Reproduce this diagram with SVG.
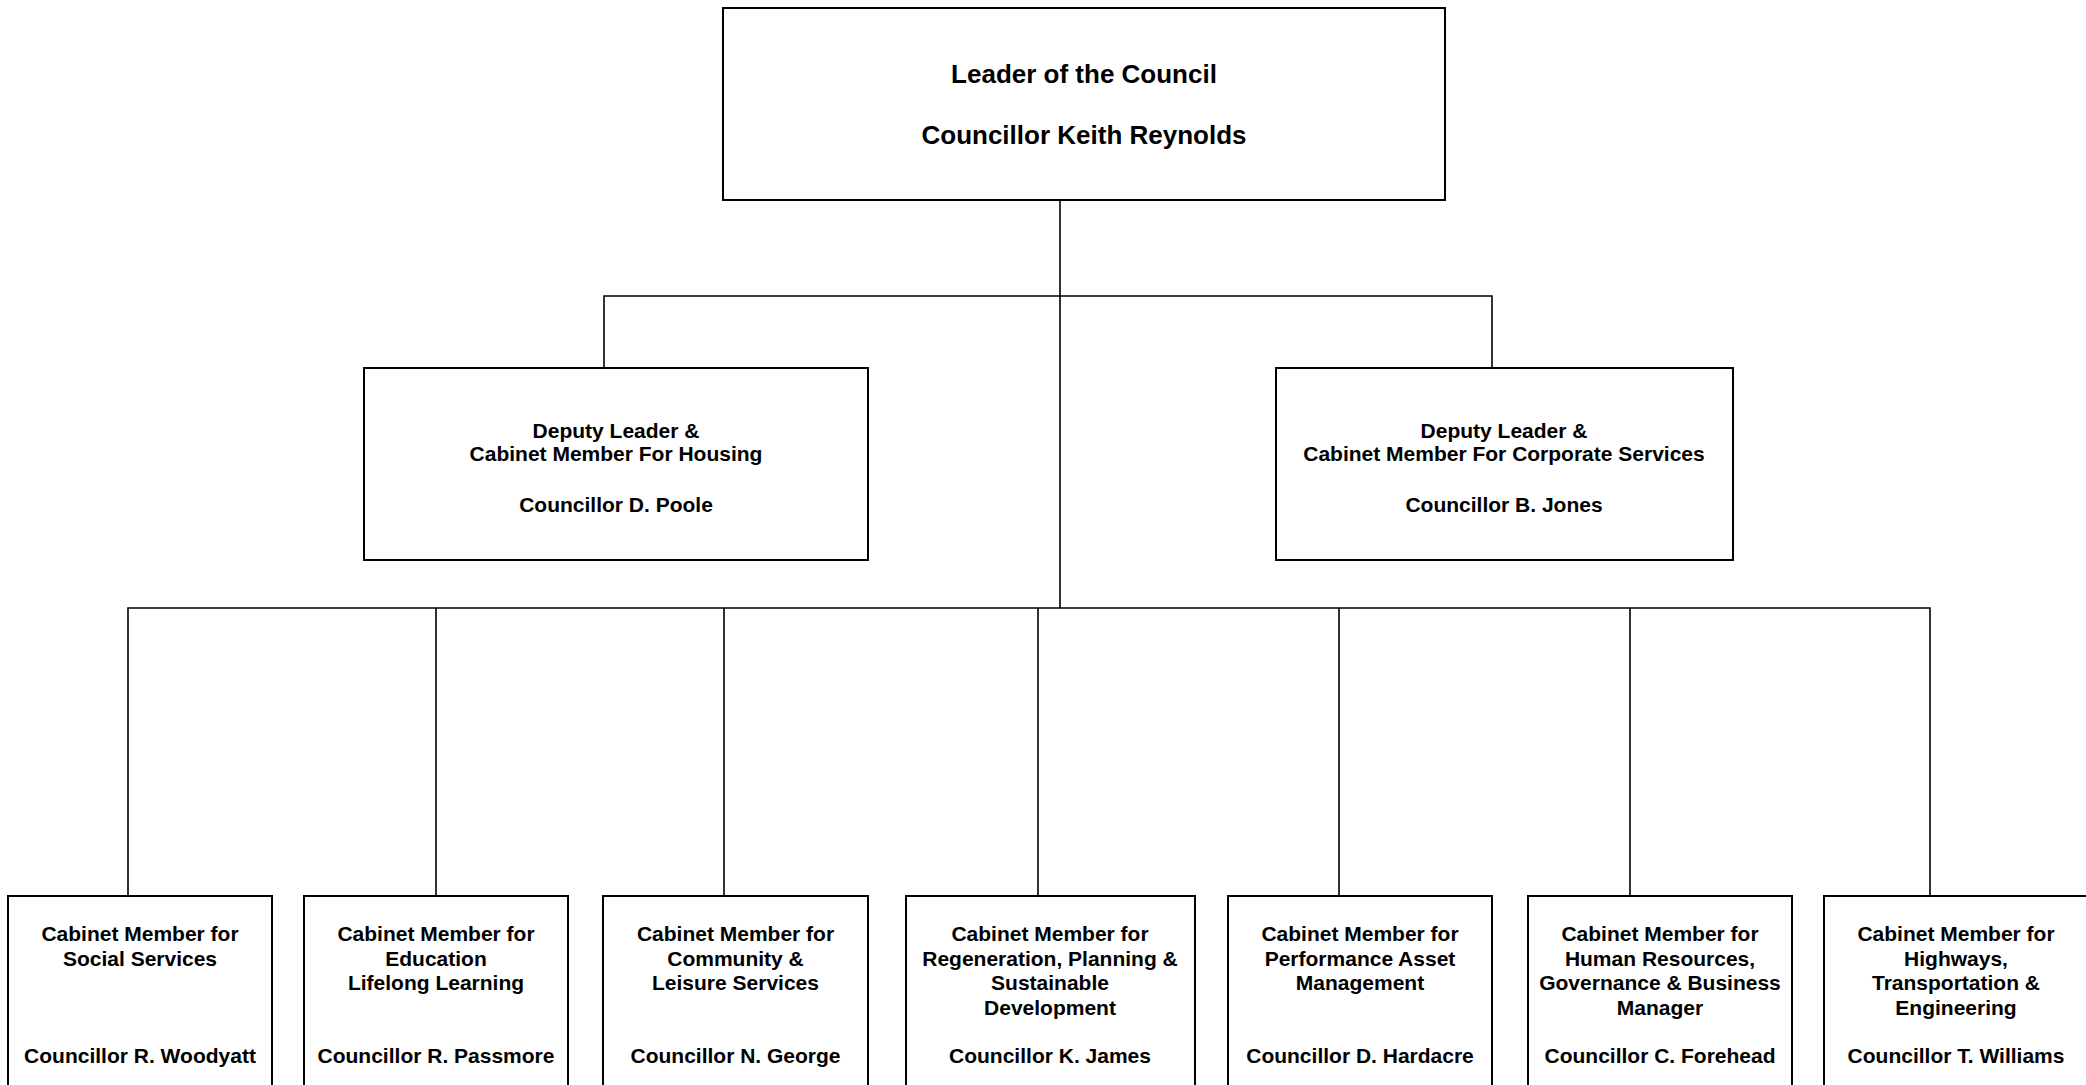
<svg xmlns="http://www.w3.org/2000/svg" width="2086" height="1085" viewBox="0 0 2086 1085">
<style>
.box{fill:#fff;stroke:#000;stroke-width:2}
.con{fill:none;stroke:#000;stroke-width:1.6}
text{font-family:"Liberation Sans",Arial,sans-serif;font-weight:bold;fill:#000;text-anchor:middle}
.t1{font-size:26px}
.t2{font-size:21px}
</style>
<rect width="2086" height="1085" fill="#fff"/>
<g id="connectors">
<path class="con" d="M1060 200V608"/>
<path class="con" d="M604 367V296H1492V367"/>
<path class="con" d="M128 896V608H1930V896"/>
<path class="con" d="M436 608V896M724 608V896M1038 608V896M1339 608V896M1630 608V896"/>
</g>
<g id="leader">
<rect class="box" x="723" y="8" width="722" height="192"/>
<text class="t1" x="1084" y="83">Leader of the Council</text>
<text class="t1" x="1084" y="144">Councillor Keith Reynolds</text>
</g>
<g id="deputy-housing">
<rect class="box" x="364" y="368" width="504" height="192"/>
<text class="t2" x="616" y="438">Deputy Leader &amp;</text>
<text class="t2" x="616" y="461">Cabinet Member For Housing</text>
<text class="t2" x="616" y="512">Councillor D. Poole</text>
</g>
<g id="deputy-corporate">
<rect class="box" x="1276" y="368" width="457" height="192"/>
<text class="t2" x="1504" y="438">Deputy Leader &amp;</text>
<text class="t2" x="1504" y="461">Cabinet Member For Corporate Services</text>
<text class="t2" x="1504" y="512">Councillor B. Jones</text>
</g>
<g id="social-services">
<rect class="box" x="8" y="896" width="264" height="200"/>
<text class="t2" x="140" y="941">Cabinet Member for</text>
<text class="t2" x="140" y="965.5">Social Services</text>
<text class="t2" x="140" y="1063">Councillor R. Woodyatt</text>
</g>
<g id="education">
<rect class="box" x="304" y="896" width="264" height="200"/>
<text class="t2" x="436" y="941">Cabinet Member for</text>
<text class="t2" x="436" y="965.5">Education</text>
<text class="t2" x="436" y="990">Lifelong Learning</text>
<text class="t2" x="436" y="1063">Councillor R. Passmore</text>
</g>
<g id="community">
<rect class="box" x="603" y="896" width="265" height="200"/>
<text class="t2" x="735.5" y="941">Cabinet Member for</text>
<text class="t2" x="735.5" y="965.5">Community &amp;</text>
<text class="t2" x="735.5" y="990">Leisure Services</text>
<text class="t2" x="735.5" y="1063">Councillor N. George</text>
</g>
<g id="regeneration">
<rect class="box" x="906" y="896" width="289" height="200"/>
<text class="t2" x="1050" y="941">Cabinet Member for</text>
<text class="t2" x="1050" y="965.5">Regeneration, Planning &amp;</text>
<text class="t2" x="1050" y="990">Sustainable</text>
<text class="t2" x="1050" y="1014.5">Development</text>
<text class="t2" x="1050" y="1063">Councillor K. James</text>
</g>
<g id="performance">
<rect class="box" x="1228" y="896" width="264" height="200"/>
<text class="t2" x="1360" y="941">Cabinet Member for</text>
<text class="t2" x="1360" y="965.5">Performance Asset</text>
<text class="t2" x="1360" y="990">Management</text>
<text class="t2" x="1360" y="1063">Councillor D. Hardacre</text>
</g>
<g id="human-resources">
<rect class="box" x="1528" y="896" width="264" height="200"/>
<text class="t2" x="1660" y="941">Cabinet Member for</text>
<text class="t2" x="1660" y="965.5">Human Resources,</text>
<text class="t2" x="1660" y="990">Governance &amp; Business</text>
<text class="t2" x="1660" y="1014.5">Manager</text>
<text class="t2" x="1660" y="1063">Councillor C. Forehead</text>
</g>
<g id="highways">
<rect class="box" x="1824" y="896" width="264" height="200"/>
<text class="t2" x="1956" y="941">Cabinet Member for</text>
<text class="t2" x="1956" y="965.5">Highways,</text>
<text class="t2" x="1956" y="990">Transportation &amp;</text>
<text class="t2" x="1956" y="1014.5">Engineering</text>
<text class="t2" x="1956" y="1063">Councillor T. Williams</text>
</g>
</svg>
